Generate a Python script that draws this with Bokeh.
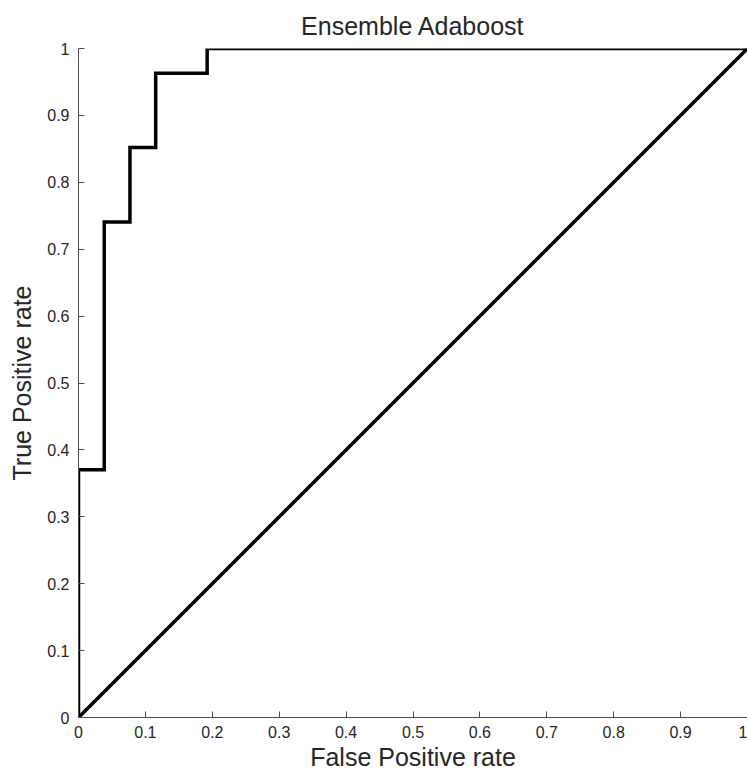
from bokeh.plotting import figure
from bokeh.models import Range1d, FixedTicker
from bokeh.embed import file_html
from bokeh.resources import INLINE

# ROC curve data (False Positive rate vs True Positive rate)
fpr = [0.0, 0.0, 0.0385, 0.0385, 0.0769, 0.0769, 0.1154, 0.1154, 0.1923, 0.1923, 1.0]
tpr = [0.0, 0.3704, 0.3704, 0.7407, 0.7407, 0.8519, 0.8519, 0.9630, 0.9630, 1.0, 1.0]

# chance diagonal
diag_x = [0.0, 1.0]
diag_y = [0.0, 1.0]

tick_values = [0, 0.1, 0.2, 0.3, 0.4, 0.5, 0.6, 0.7, 0.8, 0.9, 1]
tick_labels = ["0", "0.1", "0.2", "0.3", "0.4", "0.5", "0.6", "0.7", "0.8", "0.9", "1"]

FONT = "Liberation Sans"
TXT = "#262626"

p = figure(width=747, height=773, output_backend="svg", toolbar_location=None,
           x_range=Range1d(0, 1), y_range=Range1d(0, 1),
           min_border_left=78, min_border_right=0, min_border_top=48, min_border_bottom=56,
           title="Ensemble Adaboost")

p.title.align = "center"
p.title.text_font = FONT
p.title.text_font_size = "25px"
p.title.text_font_style = "normal"
p.title.text_color = TXT
p.title.offset = 0
p.title.standoff = 17

p.outline_line_color = None
p.grid.visible = False
p.background_fill_color = "white"

labels = {v: l for v, l in zip(tick_values, tick_labels)}
for ax in (p.xaxis[0], p.yaxis[0]):
    ax.ticker = FixedTicker(ticks=tick_values)
    ax.major_label_overrides = labels
    ax.major_tick_in = 6
    ax.major_tick_out = 0
    ax.minor_tick_in = 0
    ax.minor_tick_out = 0
    ax.axis_line_color = "#4d4d4d"
    ax.major_tick_line_color = "#4d4d4d"
    ax.major_label_text_font = FONT
    ax.major_label_text_font_size = "16px"
    ax.major_label_text_color = TXT
    ax.axis_label_text_font = FONT
    ax.axis_label_text_font_size = "25px"
    ax.axis_label_text_font_style = "normal"
    ax.axis_label_text_color = TXT

p.xaxis.axis_label = "False Positive rate"
p.yaxis.axis_label = "True Positive rate"
p.xaxis.major_label_standoff = 8
p.yaxis.major_label_standoff = 9
p.xaxis.axis_label_standoff = 2
p.yaxis.axis_label_standoff = 8

p.line(fpr, tpr, line_color="black", line_width=3.5, line_join="miter")
p.line(diag_x, diag_y, line_color="black", line_width=3.5)

open("out.html", "w").write(file_html(p, INLINE))
